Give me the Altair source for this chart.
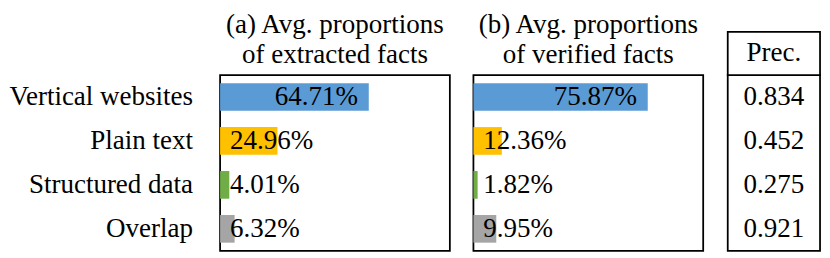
import altair as alt
import pandas as pd

categories = ["Vertical websites", "Plain text", "Structured data", "Overlap"]
extracted = [64.71, 24.96, 4.01, 6.32]
verified = [75.87, 12.36, 1.82, 9.95]
precision = [0.834, 0.452, 0.275, 0.921]
colors = ["#5B9BD5", "#FFC000", "#70AD47", "#A5A5A5"]
title_a = ["(a) Avg. proportions", "of extracted facts"]
title_b = ["(b) Avg. proportions", "of verified facts"]
prec_header = ["Prec."]

FONT = "Liberation Serif"
FS = 27.5
W, H = 234, 179
PW = 94

df = pd.DataFrame({"category": categories, "extracted": extracted,
                   "verified": verified, "prec": precision, "color": colors})

yscale = alt.Scale(paddingInner=0.37, paddingOuter=0.185)


def panel(field, title, show_labels):
    if show_labels:
        yaxis = alt.Axis(title=None, ticks=False, domain=False, labelFontSize=FS,
                         labelFont=FONT, labelPadding=28, labelColor="black",
                         labelLimit=0, grid=False)
    else:
        yaxis = None
    y = alt.Y("category:N", sort=categories, scale=yscale, axis=yaxis)
    x = alt.X(f"{field}:Q", scale=alt.Scale(domain=[0, 100]), axis=None)
    base = alt.Chart(df).transform_calculate(
        label=f"format(datum.{field}, '.2f') + '%'"
    ).encode(y=y)
    bars = base.mark_bar().encode(x=x, color=alt.Color("color:N", scale=None))
    t_in = base.transform_filter(f"datum.{field} >= 50").mark_text(
        align="right", dx=-11, font=FONT, fontSize=FS, color="black"
    ).encode(x=x, text="label:N")
    t_out = base.transform_filter(f"datum.{field} < 50").mark_text(
        align="left", dx=10, font=FONT, fontSize=FS, color="black"
    ).encode(x=alt.datum(0), text="label:N")
    return alt.layer(bars, t_in, t_out).properties(
        width=W, height=H,
        title=alt.Title(title, fontSize=FS, font=FONT, fontWeight="normal",
                        anchor="middle", lineHeight=30, offset=7, color="black"))


pa = panel("extracted", title_a, True)
pb = panel("verified", title_b, False)

py = alt.Y("category:N", sort=categories, scale=yscale, axis=None)
prec_text = alt.Chart(df).mark_text(font=FONT, fontSize=FS, color="black").encode(
    y=py, x=alt.value(PW / 2), text=alt.Text("prec:Q", format=".3f"))
hdr_df = pd.DataFrame({"h": prec_header})
hdr_box = alt.Chart(hdr_df).mark_rect(fill="white", stroke="black", strokeWidth=1.8).encode(
    x=alt.value(0), x2=alt.value(PW), y=alt.value(-44), y2=alt.value(0))
hdr_text = alt.Chart(hdr_df).mark_text(font=FONT, fontSize=FS, color="black").encode(
    x=alt.value(PW / 2), y=alt.value(-22), text="h:N")
pc = alt.layer(prec_text, hdr_box, hdr_text).properties(width=PW, height=H)

chart = alt.hconcat(pa, pb, pc, spacing=22).properties(
    padding={"left": 0, "top": 0, "right": 0, "bottom": 0}
).configure(font=FONT).configure_view(stroke="black", strokeWidth=1.8).configure_concat(spacing=22)

chart.save("out.html", embed_options={"renderer": "svg", "actions": False})
